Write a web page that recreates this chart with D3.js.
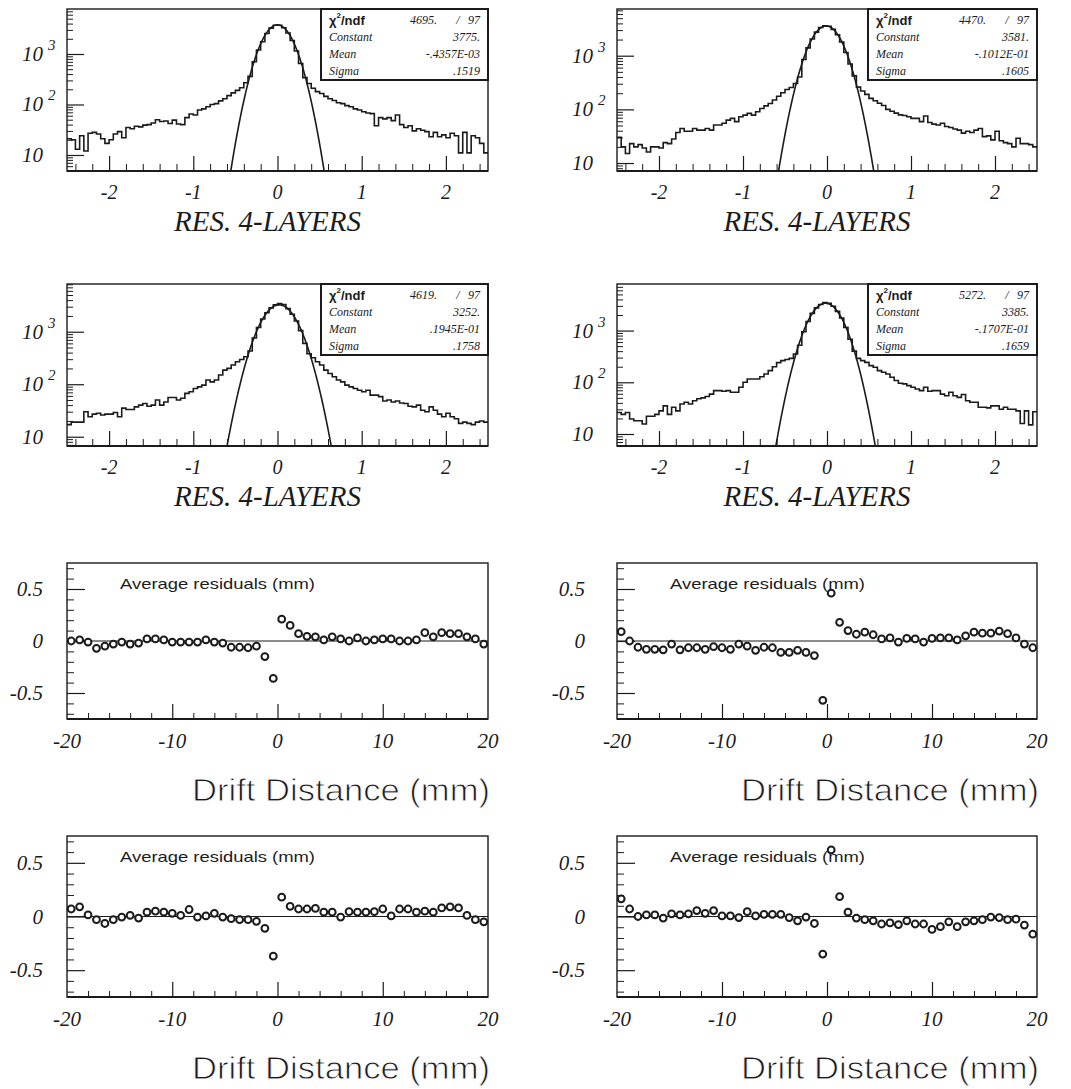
<!DOCTYPE html>
<html>
<head>
<meta charset="utf-8">
<script src="https://cdn.jsdelivr.net/npm/d3@7"></script>
<style>
  body { margin: 0; background: #fff; }
  svg { display: block; }
</style>
</head>
<body>
<svg id="chart" width="1071" height="1089"></svg>
<script>
// ---- Residual histograms, 100 bins over [-2.5, 2.5] ----
const histEdges = [-2.5, 2.5];
const histA = [21,20,13,24,12,27,28,26,21,17,
  20,26,29,22,35,33,37,36,39,40,
  43,50,46,47,42,49,41,40,55,65,
  62,78,82,90,100,104,118,130,150,170,
  190,215,270,360,700,1200,1750,2550,3250,3700,
  3720,3300,2600,1850,1150,650,340,260,210,180,
  165,145,130,120,108,104,95,90,82,78,
  72,68,66,38,55,52,55,48,62,40,
  35,38,30,33,31,29,23,28,23,25,
  22,27,24,11,28,11,24,22,17,11];
const histB = [30,20,15,23,20,22,19,16,20,20,
  19,24,23,28,37,44,39,39,44,41,
  41,44,41,51,51,55,63,68,59,73,
  78,84,78,90,104,116,129,149,176,204,
  235,255,303,400,850,1400,2050,2750,3350,3600,
  3550,3100,2450,1800,1150,700,420,260,220,190,
  160,145,130,118,100,92,85,79,77,73,
  68,68,59,75,57,53,51,55,48,46,
  43,41,36,39,37,41,44,31,32,27,
  39,26,24,23,20,29,23,23,22,20];
const histC = [17,19,19,19,30,24,27,28,26,27,
  27,29,24,35,33,33,37,40,43,38,
  40,50,40,46,56,56,50,54,67,72,
  83,89,96,120,111,120,150,186,200,232,
  268,296,334,430,760,1200,1750,2300,2850,3250,
  3450,3300,2750,2150,1600,1050,600,380,320,268,
  232,186,160,139,120,111,96,89,83,77,
  72,77,62,62,58,48,50,46,48,44,
  43,38,37,40,32,30,37,32,27,24,
  28,24,22,18,19,18,17,19,20,19];
const histD = [26,24,26,19.5,18,18,15.6,22,22,24,
  28,35,24,33,28,38,41,38,44,48,
  50,53,59,69,69,67,69,64,64,80,
  100,116,116,116,128,145,168,200,240,262,
  275,290,353,520,950,1500,2150,2750,3200,3500,
  3350,2950,2350,1750,1150,680,400,290,262,243,
  210,195,168,156,145,125,108,96,93,86,
  80,74,69,80,67,69,69,59,55,64,
  55,51,58,44,41,41,33,33,32,35,
  35,30,33,30,30,28,16,28,15,27];

// Gaussian fit results printed in the stat boxes
const statChi = ["4695.", "4470.", "4619.", "5272."];
const statNdf = ["97", "97", "97", "97"];
const statConst = ["3775.", "3581.", "3252.", "3385."];
const statMean = ["-.4357E-03", "-.1012E-01", ".1945E-01", "-.1707E-01"];
const statSigma = [".1519", ".1605", ".1758", ".1659"];
const statNames = ["Constant", "Mean", "Sigma"];

const histTicks = [-2, -1, 0, 1, 2];
const histDecades = [1, 2, 3];

// ---- Average residual vs drift distance, 50 bins over [-20, 20] mm ----
const driftEdges = [-20, 20];
const resA = [0.0,0.01,-0.01,-0.07,-0.05,-0.03,-0.01,-0.03,-0.02,0.02,
  0.02,0.01,-0.01,-0.01,-0.01,-0.01,0.01,-0.01,-0.02,-0.06,
  -0.06,-0.065,-0.05,-0.15,-0.36,0.21,0.15,0.07,0.045,0.04,
  0.01,0.04,0.02,0.0,0.03,0.0,0.01,0.02,0.02,0.0,
  0.0,0.01,0.08,0.04,0.08,0.07,0.07,0.04,0.02,-0.03];
const resB = [0.09,0.0,-0.06,-0.08,-0.08,-0.085,-0.03,-0.085,-0.065,-0.065,
  -0.08,-0.055,-0.065,-0.08,-0.03,-0.05,-0.09,-0.06,-0.065,-0.11,
  -0.11,-0.09,-0.11,-0.14,-0.57,0.46,0.18,0.10,0.065,0.085,
  0.06,0.02,0.03,-0.01,0.025,0.02,-0.01,0.025,0.03,0.03,
  0.01,0.05,0.085,0.075,0.075,0.095,0.07,0.03,-0.03,-0.065];
const resC = [0.07,0.09,0.015,-0.03,-0.065,-0.03,-0.005,0.01,-0.015,0.04,
  0.05,0.04,0.03,0.01,0.065,-0.005,0.005,0.03,-0.005,-0.02,
  -0.03,-0.03,-0.045,-0.11,-0.37,0.18,0.095,0.07,0.07,0.075,
  0.04,0.04,-0.005,0.045,0.04,0.04,0.045,0.07,0.005,0.07,
  0.07,0.04,0.05,0.04,0.08,0.09,0.08,0.01,-0.03,-0.05];
const resD = [0.165,0.07,0.0,0.015,0.015,-0.015,0.025,0.015,0.025,0.055,
  0.03,0.055,0.005,0.005,-0.01,0.045,0.005,0.02,0.02,0.02,
  -0.01,-0.04,-0.005,-0.065,-0.35,0.62,0.185,0.04,-0.015,-0.03,
  -0.04,-0.07,-0.06,-0.075,-0.04,-0.07,-0.07,-0.12,-0.095,-0.05,
  -0.095,-0.05,-0.04,-0.03,-0.005,-0.01,-0.03,-0.025,-0.08,-0.165];
const driftTicks = [-20, -10, 0, 10, 20];
const resTicks = [-0.5, 0, 0.5];
const resTickText = ["-0.5", "0", "0.5"];

// ---- layout ----
const cols = [{ l: 67, r: 488 }, { l: 617, r: 1037 }];
const histRows = [{ t: 9, b: 171 }, { t: 284, b: 446 }];
const resRows = [{ t: 563, b: 719 }, { t: 836, b: 997 }];
const histYDomains = [[4.82, 7780], [7.1, 7420], [6.66, 8110], [5.86, 7950]];
const resLabelGap = [24, 32];

const SERIF = "'Liberation Serif','Times New Roman',serif";
const SANS = "'Liberation Sans',Arial,sans-serif";
const INK = "#1b1b1b";

const svg = d3.select("#chart");
svg.append("rect").attr("width", 1071).attr("height", 1089).attr("fill", "#fff");

function tickAxis(g, axisFn, scale, values, size, tx, ty, width) {
  const a = axisFn(scale).tickValues(values).tickSize(size).tickFormat("");
  const s = g.append("g").attr("transform", `translate(${tx},${ty})`).call(a);
  s.select(".domain").remove();
  s.selectAll("line").attr("stroke", INK).attr("stroke-width", width);
}

function drawHist(k, counts, col, row) {
  const { l, r } = cols[col];
  const { t, b } = histRows[row];
  const yDom = histYDomains[k];
  const x = d3.scaleLinear(histEdges, [l, r]);
  const y = d3.scaleLog(yDom, [b, t]);
  const g = svg.append("g");

  const clipId = "hclip" + k;
  svg.append("clipPath").attr("id", clipId)
    .append("rect").attr("x", l).attr("y", t).attr("width", r - l).attr("height", b - t);
  const plot = g.append("g").attr("clip-path", `url(#${clipId})`);

  // histogram outline
  const w = (histEdges[1] - histEdges[0]) / counts.length;
  const steps = counts.map((c, i) => [histEdges[0] + w * i, c]);
  steps.push([histEdges[1], counts[counts.length - 1]]);
  plot.append("path")
    .attr("d", d3.line().x(d => x(d[0])).y(d => y(d[1])).curve(d3.curveStepAfter)(steps))
    .attr("fill", "none").attr("stroke", INK).attr("stroke-width", 1.6);

  // fitted gaussian
  const C = +statConst[k], mu = +statMean[k], sg = +statSigma[k];
  const gauss = d3.range(histEdges[0], histEdges[1] + 1e-9, 0.004)
    .map(v => [v, C * Math.exp(-0.5 * ((v - mu) / sg) ** 2)])
    .filter(d => d[1] > yDom[0] * 0.3);
  plot.append("path")
    .attr("d", d3.line().x(d => x(d[0])).y(d => y(d[1]))(gauss))
    .attr("fill", "none").attr("stroke", INK).attr("stroke-width", 1.6);

  // frame
  g.append("rect").attr("x", l).attr("y", t).attr("width", r - l).attr("height", b - t)
    .attr("fill", "none").attr("stroke", INK).attr("stroke-width", 1.4);
  g.append("line").attr("x1", l).attr("x2", r).attr("y1", b).attr("y2", b)
    .attr("stroke", INK).attr("stroke-width", 2.2);

  // x ticks (inside)
  const minorX = d3.range(-24, 25, 2).map(v => v / 10).filter(v => !Number.isInteger(v));
  tickAxis(g, d3.axisTop, x, minorX, 7, 0, b, 1);
  tickAxis(g, d3.axisTop, x, histTicks, 15, 0, b, 1.2);

  // y ticks (inside, log)
  const minorY = [];
  const majorY = [];
  [1, 10, 100, 1000].forEach(d => {
    for (let m = 1; m <= 9; m++) {
      const v = m * d;
      if (v >= yDom[0] && v <= yDom[1]) (m === 1 ? majorY : minorY).push(v);
    }
  });
  tickAxis(g, d3.axisRight, y, minorY, 6, l, 0, 1);
  tickAxis(g, d3.axisRight, y, majorY, 17, l, 0, 1.2);

  // tick labels
  g.selectAll(".xl").data(histTicks).join("text")
    .attr("x", d => x(d)).attr("y", b + 21)
    .attr("text-anchor", "middle").attr("dominant-baseline", "central")
    .attr("font-family", SERIF).attr("font-style", "italic").attr("font-size", 20)
    .attr("fill", INK).text(d => String(d));

  histDecades.forEach(p => {
    const v = Math.pow(10, p);
    const tx = g.append("text").attr("x", l - 45).attr("y", y(v))
      .attr("dominant-baseline", "central")
      .attr("font-family", SERIF).attr("font-style", "italic").attr("font-size", 21)
      .attr("fill", INK);
    tx.append("tspan").text("10");
    if (p > 1) tx.append("tspan").attr("dx", 5).attr("dy", -9).attr("font-size", 15).text(String(p));
  });

  // axis title
  g.append("text").attr("x", (l + r) / 2 - 10).attr("y", b + 50)
    .attr("text-anchor", "middle").attr("dominant-baseline", "central")
    .attr("font-family", SERIF).attr("font-style", "italic").attr("font-size", 29)
    .attr("fill", INK).text("RES. 4-LAYERS");

  // stat box
  const bl = col === 0 ? 321 : 868, br = r, bt = t, bb = t + 71;
  g.append("rect").attr("x", bl).attr("y", bt).attr("width", br - bl).attr("height", bb - bt)
    .attr("fill", "#fff").attr("stroke", INK).attr("stroke-width", 2);
  const rowY = [bt + 11, bt + 28, bt + 45, bt + 62];
  const chi = g.append("text").attr("x", bl + 8).attr("y", rowY[0])
    .attr("dominant-baseline", "central").attr("font-family", SANS).attr("font-weight", "bold")
    .attr("font-size", 13).attr("fill", INK);
  chi.append("tspan").text("\u03C7");
  chi.append("tspan").attr("dy", -5).attr("font-size", 8).text("2");
  chi.append("tspan").attr("dy", 5).text("/ndf");
  const statFont = sel => sel.attr("dominant-baseline", "central").attr("font-family", SERIF)
    .attr("font-style", "italic").attr("font-size", 12).attr("fill", INK);
  g.append("text").attr("x", br - 51).attr("y", rowY[0]).attr("text-anchor", "end").call(statFont).text(statChi[k]);
  g.append("text").attr("x", br - 30).attr("y", rowY[0]).attr("text-anchor", "middle").call(statFont).text("/");
  g.append("text").attr("x", br - 8).attr("y", rowY[0]).attr("text-anchor", "end").call(statFont).text(statNdf[k]);
  const vals = [statConst[k], statMean[k], statSigma[k]];
  statNames.forEach((nm, i) => {
    g.append("text").attr("x", bl + 8).attr("y", rowY[i + 1]).call(statFont).text(nm);
    g.append("text").attr("x", br - 8).attr("y", rowY[i + 1]).attr("text-anchor", "end").call(statFont).text(vals[i]);
  });
}

function drawRes(k, vals, col, row) {
  const { l, r } = cols[col];
  const { t, b } = resRows[row];
  const x = d3.scaleLinear(driftEdges, [l, r]);
  const y = d3.scaleLinear([-0.75, 0.75], [b, t]);
  const g = svg.append("g");
  const w = (driftEdges[1] - driftEdges[0]) / vals.length;
  const centers = vals.map((_, i) => driftEdges[0] + w * (i + 0.5));

  g.append("line").attr("x1", l).attr("x2", r).attr("y1", y(0)).attr("y2", y(0))
    .attr("stroke", INK).attr("stroke-width", 1.1);

  // frame
  g.append("rect").attr("x", l).attr("y", t).attr("width", r - l).attr("height", b - t)
    .attr("fill", "none").attr("stroke", INK).attr("stroke-width", 1.4);
  g.append("line").attr("x1", l).attr("x2", r).attr("y1", b).attr("y2", b)
    .attr("stroke", INK).attr("stroke-width", 2.2);

  const minorX = d3.range(-18, 19, 2).filter(v => v % 10 !== 0);
  tickAxis(g, d3.axisTop, x, minorX, 6, 0, b, 1);
  tickAxis(g, d3.axisTop, x, [-10, 0, 10], 15, 0, b, 1.2);
  const minorY = d3.range(-7, 8).map(v => v / 10).filter(v => Math.abs(v) !== 0.5 && v !== 0);
  tickAxis(g, d3.axisRight, y, minorY, 7, l, 0, 1);
  tickAxis(g, d3.axisRight, y, resTicks, 18, l, 0, 1.2);

  g.selectAll("circle").data(vals).join("circle")
    .attr("cx", (d, i) => x(centers[i])).attr("cy", d => y(d)).attr("r", 3.4)
    .attr("fill", "#fff").attr("stroke", INK).attr("stroke-width", 2);

  g.selectAll(".xl").data(driftTicks).join("text")
    .attr("x", d => x(d)).attr("y", b + 22)
    .attr("text-anchor", "middle").attr("dominant-baseline", "central")
    .attr("font-family", SERIF).attr("font-style", "italic").attr("font-size", 21)
    .attr("fill", INK).text(d => String(d));
  g.selectAll(".yl").data(resTicks).join("text")
    .attr("x", l - resLabelGap[col]).attr("y", d => y(d))
    .attr("text-anchor", "end").attr("dominant-baseline", "central")
    .attr("font-family", SERIF).attr("font-style", "italic").attr("font-size", 21)
    .attr("fill", INK).text((d, i) => resTickText[i]);

  g.append("text").attr("x", l + 53).attr("y", t + 20)
    .attr("dominant-baseline", "central").attr("font-family", SANS)
    .attr("font-size", 15)
    .attr("textLength", 195).attr("lengthAdjust", "spacingAndGlyphs")
    .attr("fill", INK).text("Average residuals (mm)");

  // axis title, glyphs slightly thinned with a white outline
  g.append("text").attr("x", r + 2).attr("y", b + 71)
    .attr("text-anchor", "end").attr("dominant-baseline", "central")
    .attr("font-family", SANS).attr("font-size", 31)
    .attr("textLength", 298).attr("lengthAdjust", "spacingAndGlyphs")
    .attr("fill", INK).attr("stroke", "#fff").attr("stroke-width", 0.8)
    .text("Drift Distance (mm)");
}

drawHist(0, histA, 0, 0);
drawHist(1, histB, 1, 0);
drawHist(2, histC, 0, 1);
drawHist(3, histD, 1, 1);
drawRes(0, resA, 0, 0);
drawRes(1, resB, 1, 0);
drawRes(2, resC, 0, 1);
drawRes(3, resD, 1, 1);
</script>
</body>
</html>
